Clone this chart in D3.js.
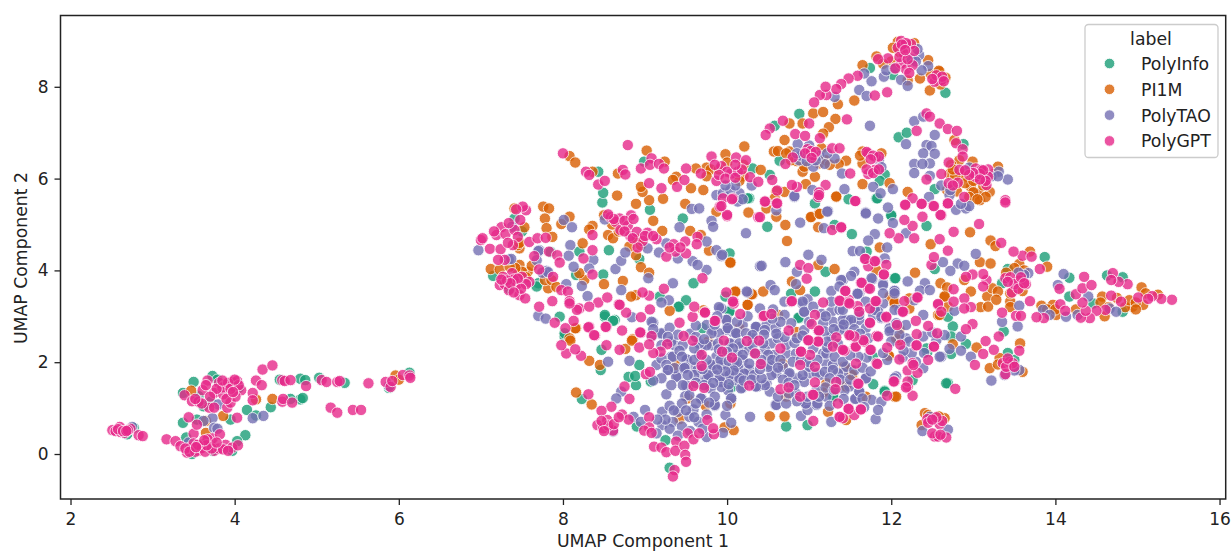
<!DOCTYPE html>
<html>
<head>
<meta charset="utf-8">
<script src="https://cdn.jsdelivr.net/npm/d3@7"></script>
<style>
html, body { margin: 0; padding: 0; background: #fff; }
svg { display: block; font-family: "DejaVu Sans", sans-serif; }
</style>
</head>
<body>
<svg id="chart"></svg>
<script>
// values, [UMAP 1, UMAP 2]
var labels = ["PolyInfo", "PI1M", "PolyTAO", "PolyGPT"];
var colors = ["#1b9e77", "#d95f02", "#7570b3", "#e7298a"];
var xTicks = [2, 4, 6, 8, 10, 12, 14, 16];
var yTicks = [0, 2, 4, 6, 8];

var polyInfo = [
[3.5,1.57],[3.73,1.7],[3.79,1.62],[3.37,1.33],[3.56,1.26],[3.71,1.14],[3.62,1.04],[3.37,.68],[3.54,.75],[3.95,.75],[4.15,.96],[4.26,.84],[4.44,1.02],[4.13,.41],[4.03,.28],[3.97,.07],[3.41,.36],[4.55,1.62],[4.8,1.64],[4.86,1.61],[5.03,1.66],[5.34,1.55],[4.8,1.19],[4.83,1.22],[4.68,1.2],[2.77,.57],[2.69,.43],[5.88,1.44],[6.13,1.77],[4.05,1.44],[3.48,0],[3.73,.07],
[8.48,5.48],[8.49,5.69],[8.43,6.15],[9.06,5.32],[8.56,4.44],[8.49,3.91],[7.7,3.72],[7.15,3.88],[8.2,4.41],[8.16,3.9],[9.59,3.72],[9.42,3.21],[9.5,3.35],[8.93,4.25],[8.51,2.99],[8.63,2.92],[10.03,3.12],[8.99,6.37],[10.27,5.57],[7.41,5.13],[9.18,3.43],[8.02,2.56],[9.46,5.13],[7.96,2.99],[9.7,2.74],[10.31,6.22],
[10.88,7.41],[11.74,8.41],[12.66,7.87],[12.09,6.9],[12.19,7],[11.92,6.09],[11.86,5.95],[11.82,5.57],[11.48,5.55],[12.53,5.77],[10.58,7.15],[12,5.19],[12.88,6.75],[12.02,8.26],[10.64,6.39],[10.52,6.08],[11.07,5.46],
[10.72,.6],[8.23,1.2],[8.89,1.5],[8.8,1.68],[8.88,1.7],[9.07,1.58],[8.46,1.83],[8.9,.6],[9.41,3.21],[10.03,3.1],[8.51,3.03],[8.61,2.9],[10.98,.63],[11.3,1.25],[11.51,1.83],[8.47,2.27],[8.02,2.63],[9.25,.3],[9.3,-.3],[8.93,1.94],[10.05,1.45],[10.88,2.96],
[11.52,4.79],[12.43,4.97],[13.87,4.29],[14.17,3.84],[14.63,3.89],[14.82,3.85],[12.75,2.78],[12.73,2.56],[12.91,2.4],[13.37,2.67],[13.42,2.2],[12.69,1.54],[11.92,1.38],[11.78,1.52],[12.69,2.99],[12.53,4.03],[12.04,3.83],[13.35,3.72],[13.42,4.03],[12.73,2.18],[12.44,2.22],[14.17,3.43],[14.46,3.28],[14.82,3.1],[11.78,2.12],[11.7,4.41],[12.26,1.61],
[10.49,4.95],[10.25,5.57],[11.83,5.57],[12,5.2],[11.31,4.99],[10.03,4.37],[11.07,3.54],[11.2,3.97],[12.05,3.83],[10.78,3.49],[9.98,3.43],[10.87,2.97],
[11.51,1.83],[11.92,1.36],[12.67,1.54],[12.43,2.3],[11.29,1.25],[7.35,3.6],[7.68,3.65],[7.85,4.4],[7.5,4.85],[13.5,2.05]
];

var pi1m = [
[3.47,1.38],[3.86,.83],[3.65,.46],[4.46,1.2],[4.26,1.19],[5.96,1.71],[6,1.62],[3.65,.72],
[8.08,6.49],[8.15,6.35],[9.02,6.61],[10.21,6.7],[9.98,6.53],[8.66,5.63],[8.89,5.45],[9.05,5.53],[9.22,5.56],[9.49,5.45],[10.26,5.26],[7.76,5.39],[7.83,5.35],[7.78,5.13],[7.8,4.92],[7.87,4.73],[8.08,5.17],[7.98,5.01],[8.24,4.59],[8.36,4.97],[8.32,4.89],[8.55,4.77],[8.61,4.7],[9.1,5.08],[9.21,4.86],[8.95,4.07],[9.05,3.95],[8.5,3.7],[8.73,3.77],[10.04,4.17],[9.78,4.43],[9.55,4.86],[9.68,4.77],[7.12,4.03],[7.23,4.02],[7.47,4.48],[7.53,4.94],[7.41,5.35],[8.97,5.71],[8.95,5.82],[9.38,6.04],[9.34,5.97],[9.71,5.75],[9.75,6.24],[9.62,6.22],[9.56,5.79],[8.67,6.11],[8.36,6.15],[7.82,3.61],[7.78,3.79],[7.86,3.79],[7.57,3.97],[7.47,4.12],[7.92,3.64],[8.26,3.79],[8.2,3.94],[8.89,3.46],[8.83,3.43],[9.3,3.12],[8.16,2.74],[8.08,2.52],[8.85,2.5],[10.1,3.53],[10.25,3.25],[10.31,3.48],[9.87,5.28],[8.89,4.33],[8.81,4.52],[9.24,6.37],
[11.55,7.7],[12.47,7.92],[11.32,7.3],[11.35,7.62],[11.05,7.42],[11.17,7.45],[10.92,7.2],[11.24,7.12],[11.17,6.98],[10.76,7.2],[10.7,6.84],[10.57,6.59],[10.76,6.59],[11.15,6.66],[11.45,6.39],[11.36,6.32],[11.65,5.88],[11.33,5.6],[11.03,5.17],[11.12,5.24],[12.2,5.71],[11.98,5.9],[10.92,6.15],[11.07,6.04],[10.96,5.88],[10.7,5.71],[12.35,8.18],[12.2,8.14],[12.45,8.58],[11.82,8.66],[11.65,8.47],[12.08,8.98],[11.65,6.59],[11.65,6.33],[12.83,6.4],[12.93,6.04],[12.71,6.1],[13.06,5.68],[12.97,5.82],[13.08,5.53],[13.2,5.71],[13.3,6.26],[12.73,6.3],[12.99,6.37],[12.77,6.84],[12.1,8.76],[12.59,8.33],[10.41,6.19],[10.94,6.26],[11.12,6.33],
[8.16,1.34],[8.35,1.08],[8.32,2.03],[8.45,1.94],[8.09,2.47],[8.15,2.74],[8.76,2.29],[8.84,2.47],[10.25,3.25],[10.62,3.03],[9.37,1.94],[9.74,1.05],[9.42,.76],[10.04,1.1],[10.08,.52],[9.97,.58],[10.52,.82],[10.7,.82],[10.68,1.97],[11.17,1.32],[11.53,1.72],[11.45,1.5],[10.72,1.25],[9.77,2.45],[10.15,2.74],[10.84,2.66],[9.52,1.21],[11.45,.74],[11.23,.92],[11.43,1.9],[11.21,1.54],[9.71,3.13],
[12.48,4.57],[12.96,4.83],[13.21,4.65],[13.27,4.53],[13.08,4.18],[13.21,4.15],[13.69,4.41],[13.9,4.08],[12.29,3.95],[11.86,4.5],[12.6,3.72],[12.65,3.44],[12.68,3.63],[12.69,3.21],[12.57,3.03],[12.22,3.17],[12.04,3.32],[11.98,3.43],[13.09,3.2],[13.17,3.43],[13.18,3.21],[13.23,3.61],[13.3,3.54],[13.28,3.36],[12.97,3.54],[12.89,3.79],[13.45,3.32],[13.45,3.2],[13.56,4.14],[13.57,2.41],[13.04,2.32],[13.2,1.87],[13.32,2.09],[13.6,1.79],[12.75,2.39],[11.97,2.14],[12.04,1.25],[11.69,1.25],[11.52,1.74],[13.83,3.23],[13.97,3.25],[14.01,3.03],[14.57,3.43],[15.05,3.63],[14.94,3.21],[15.07,3.25],[15.25,3.47],[12.41,.89],[12.65,.78],[12.37,.63],[12.1,2.48],
[10.71,4.99],[10.73,4.64],[11.02,5.16],[11.13,5.23],[11.11,4.94],[11.33,5.61],[10.04,4.17],[11.31,4.03],[10.79,3.76],[10.89,3.57],[10.44,3.54],[10.1,3.54],[10.3,3.48],[10.6,5.17],[10.48,5.35],[10.6,5.72],[10.58,5.57],[11.11,4.12],[11.82,4],[12.04,3.28],[12.22,3.39],
[11.52,1.72],[11.17,1.34],[11.97,2.14],[12.04,3.3],[12.1,2.72],[12.59,3.03],[12.65,3.43],[11.43,1.9],[12.06,1.25],[11.45,1.47],[12.06,2.52],
[7.45,4.55],[7.47,4.6],[7.5,3.97],[7.42,4.05],[7.35,4.08],[7.55,3.85],[7.62,4.1],
[12.02,8.85],[12.28,8.95],[12,8.55],[11.9,8.5],[12.48,8.28],[12.58,8.35],[12.66,8.2],[12.6,8.05],[12.45,.85],[12.58,.82],
[12.85,6.1],[12.9,5.9],[13,5.95],[13.12,5.85],[13,5.7],[13.15,5.6],[12.95,5.6],[13.25,6.1],[13.05,5.55],[12.78,6.05],[12.68,5.75],[12.8,5.72],[12.75,6.2],
[10.85,6.38],[10.78,6.4],[11.2,6.4],[11.25,6.3],[10.62,6.6],[10.72,6.55],[11.62,6.5],[11.88,6.55],
[8.68,4.85],[8.9,4.68],[8.6,5],[8.5,5.2],[8.95,4.55],[9.8,6.2],[9.9,6.2],[10,6.35],[10.2,6.05],[9.75,6.05],[10.2,6.3],[10.15,5.95],
[13.5,4.05],[13.4,3.95],[13.62,4],[13.45,3.5],[13.6,3.55],[13.3,1.95],
[14.55,3.3],[14.65,3.2],[14.85,3.2],[14.9,3.35],[14.98,3.3],[14.98,3.15],[14.6,3],[14.75,3.4],[15.1,3.5],[14.25,3.15],[13.9,3.15],[14,3.15]
];

var polyTao = [
[3.8,1.08],[3.73,.78],[3.62,.72],[3.75,.57],[3.79,.55],[4.22,.78],[4.35,.83],[3.44,.25],[5.88,1.48],[2.75,.59],
[8.01,5.1],[8.11,4.94],[8.09,4.55],[8.07,4.32],[8.13,4.08],[8.37,4.23],[8.32,4.04],[8.23,3.66],[8.3,3.44],[8.64,4.03],[8.71,4.21],[8.76,4.39],[8.71,3.57],[9.04,3.83],[9.34,3.72],[9.57,5.34],[9.66,5.35],[9.81,5.08],[9.83,4.95],[9.42,4.94],[10.23,4.81],[10.4,4.09],[9.03,4.48],[9.17,4.39],[9.26,4.59],[9.4,4.26],[9.58,4.2],[9.75,4.01],[9.64,4.12],[9.75,4.63],[9.87,4.44],[9.93,4.31],[10.15,5.68],[9.87,5.64],[9.95,5.68],[10.04,5.75],[10.13,5.5],[10.19,5.55],[7.34,4.24],[7.71,4.44],[7.8,3.99],[6.97,4.44],[7.7,3.01],[7.79,2.95],[9.29,3.35],[9.2,3.3],[9.1,2.86],[9.2,2.61],[9.08,2.56],[8.84,2.98],[8.51,5.11],[8.04,3.7],[10.25,3.52],[9.91,3.17],[9.83,2.7],[9.99,2.92],[10.07,2.66],[10.19,2.81],[10.35,2.74],[9.75,2.81],[9.99,2.7],
[11.74,7.15],[12.34,8.69],[12.32,8.82],[12.45,8.45],[12.37,8.36],[11.91,8.22],[11.94,8.36],[11.76,8.12],[11.61,7.93],[11.7,7.8],[11.31,7.78],[12.12,8.15],[12.2,8.02],[12.04,8.4],[11.67,8.29],[12.28,7.25],[12.39,7.35],[12.53,6.95],[12.18,6.75],[12.43,6.73],[12.49,6.71],[12.39,6.55],[12.53,6.54],[12.47,6.33],[12.28,6.32],[12.38,6.32],[12.28,6.12],[12.47,6.06],[12.61,5.85],[13.42,5.98],[13.31,6.15],[12.95,6.24],[11.43,5.77],[11.4,6.11],[11.78,5.82],[12.02,5.77],[11.87,5.68],[10.82,5.6],[11.04,5.75],[11.23,5.29],[11.69,5.26],[11.96,5.37],[12.46,5.6],[12.71,5.64],[12.79,5.32],[12.91,5.35],[10.86,6.75],[10.88,6.4],[11.05,6.26],[11.19,6.32],[11.31,6.44],[10.6,5.31],[11.84,5.13],
[9.26,1.3],[10.28,.81],[10.59,1.07],[10.9,.83],[8.55,2.01],[8.81,2.03],[9.27,1.83],[9.14,1.94],[9.08,2.88],[9.2,2.63],[9.32,2.12],[9.5,2.05],[9.47,1.9],[9.58,1.9],[9.4,1.7],[9.7,1.65],[9.85,1.72],[9.94,1.59],[10.03,1.72],[9.52,1.45],[9.69,1.21],[9.49,1.26],[10.05,1.21],[10.19,1.45],[10.36,1.49],[10.48,1.54],[10.52,1.36],[10.6,1.76],[10.75,1.74],[10.86,1.65],[10.96,1.1],[10.98,.96],[11.09,1.07],[11.21,1.25],[11.49,1.47],[11.57,1.21],[11.27,.7],[9,.96],[9.21,.92],[9.4,.92],[9.59,.97],[9.85,1.05],[9.98,.85],[10.05,.68],[9.95,.46],[9.75,.86],[9.54,.81],[9.34,.7],[9.21,.63],[8.86,.81],[8.95,.7],[8.71,1.36],[8.65,1.21],[8.61,.49],[9.14,.45],[9.75,.37],
[11.69,5.24],[12.02,5.03],[11.8,4.79],[11.72,4.65],[11.95,4.5],[12.18,4.81],[11.53,4.42],[11.62,4.42],[13.03,4.36],[12.63,4.18],[12.81,4.15],[12.89,4.1],[12.72,3.99],[12.2,3.76],[12.41,3.72],[12.04,3.56],[12.35,3.56],[12.47,3.57],[11.9,3.72],[11.55,3.97],[11.77,3.81],[12.77,3.12],[13.35,2.88],[13.54,2.78],[12.85,2.56],[12.85,2.25],[12.97,2.12],[12.71,2.29],[12.61,2.12],[13.22,1.6],[14.1,3.92],[14.03,3.68],[13.85,3.14],[14.13,2.99],[13.93,3.03],[14.27,3.03],[14.4,3.43],[14.66,3.17],[14.74,3.1],[13.56,3.23],[13.67,3.94],[12.38,.5],[12.69,.53],[12.47,.81],[11.81,.76],[11.76,1.18],[11.88,1.14],[11.56,1.2],[11.61,1.36],[11.69,1.64],[12.06,1.69],[12.14,2.11],[12.39,1.87],[12,2.7],[11.88,2.96],[12.18,2.52],[12.1,3.14],[12.39,3.03],[11.41,3.79],[11.61,3.49],[11.82,3.21],[11.9,3.28],[11.78,3.03],[11.45,2.92],[11.53,2.88],[11.61,2.92],[11.69,2.74],[11.98,2.74],[11.41,2.77],[11.41,1.76],[13.56,1.83],
[10.89,5.04],[10.82,5.62],[11.22,5.28],[11.18,4.92],[10.42,4.1],[10.71,4.18],[10.99,4.34],[11.15,4.23],[10.85,3.97],[10.84,3.7],[10.53,3.68],[10.58,3.57],[10.24,3.54],[9.94,4.34],[11.27,3.55],[11.51,3.88],[11.39,3.79],[11.37,3.65],[11.59,3.5],[11.76,3.83],[11.9,3.68],[12.04,3.55],[11.92,4.26],[10.4,3.17],[10.56,3.15],[10.7,3.32],[10.92,3.28],[10.98,3.37],[10.94,3.09],[11.15,3.05],[11.27,3.1],[11.37,3.14],[11.61,3.03],[10.7,3.03],[11.69,3.32],[9.93,3.17],[11.84,3.1],[12.04,3.14],
[9.36,2.37],[9.34,2.12],[9.51,2.06],[9.49,1.89],[9.38,1.68],[10,2.93],[10,2.74],[10.12,2.63],[9.9,2.63],[9.81,2.37],[9.68,2.34],[10.05,2.41],[10.17,2.34],[10.12,2.16],[9.87,2.12],[9.83,1.94],[9.95,1.94],[10.05,1.89],[10.19,2.05],[10.27,2.27],[10.23,1.86],[10.15,1.76],[9.75,1.72],[9.64,1.83],[9.93,1.57],[10.11,1.61],[10.27,1.83],[10.36,2.77],[10.48,2.81],[10.59,2.74],[10.31,2.52],[10.54,2.41],[10.46,2.27],[10.58,2.16],[10.52,1.94],[10.72,2.19],[10.84,2.19],[10.8,2.01],[10.68,1.9],[10.76,1.76],[11,1.76],[11.21,1.97],[11.29,1.94],[11.17,2.19],[11.13,2.7],[11.29,2.88],[11.41,2.92],[11.47,2.66],[11.27,2.56],[11.45,1.9],[11.35,1.76],[11.13,1.72],[10.94,1.57],[11.09,1.39],[10.84,1.32],[10.6,1.07],[10.37,1.47],[10.01,1.39],[9.85,1.07],[9.5,1.5],[9.2,2.08],[9.26,1.94],[9.36,1.87],
[10.92,3.32],[10.94,3.1],[11.05,3.21],[11.27,3.32],[11.41,3.14],[11.51,2.92],[11.59,3.49],[11.17,2.85],[11.19,2.67],[10.94,2.7],[11.21,2.19],[11.31,2.12],[11,1.9],[10.92,1.72],[11.09,1.76],[11.19,1.79],[11.29,1.83],[11.41,2.01],[11.43,1.39],[11.61,1.36],[11.69,1.65],[11.65,1.21],[11.84,.96],[11.67,1.02],[10.96,1.1],[11.1,1.1],[11.37,2.7],[11.98,2.67],[12.04,3.5],[12.06,2.85],[12.18,2.81],[11.9,3.5],[11.8,3.14],[11.88,2.99],[12.28,3.35],[12.59,2.12],[12.22,2.45],[12.39,2.56],[12.3,2.01],[12.04,1.65],[12.55,2.48],[12.65,2.59],
[9.32,2.45],[9.48,1.87],[9.28,1.83],[9.81,2.63],[9.99,2.92],[10.01,2.74],[10.11,2.63],[9.89,2.41],[9.75,2.37],[9.66,2.41],[10.03,2.41],[10.15,2.41],[10.23,2.63],[10.35,2.77],[10.46,2.7],[10.31,2.59],[10.07,2.3],[10.19,2.16],[10.27,1.97],[10.31,2.37],[10.44,2.41],[9.81,1.94],[9.93,1.94],[10.03,1.72],[9.91,1.65],[9.75,1.65],[9.6,1.72],[10.13,1.9],[10.21,1.75],[10.33,1.72],[10.46,1.5],[10.35,1.47],[10.17,1.43],[9.93,1.46],[9.8,1.43],[9.68,1.21],[9.54,1.28],[9.46,1.5],[9.85,1.25],[10.05,1.21],[9.2,2.37],[9.46,2.37],[9.66,2.16],[9.77,1.72],[10.09,2.01],[10.15,1.65],[9.9,3.2],[10.35,2.19],[10.5,2.16],[10.54,1.72],[10.5,1.9],
[9.55,2.62],[9.62,2.55],[9.72,2.5],[9.6,2.3],[9.42,2.25],[9.45,2.12],[9.6,2.05],[9.75,2.05],[9.9,2.28],[10,2.22],[9.92,2.05],[10.02,2.02],[10.12,2],[10.08,1.82],[9.98,1.8],[9.88,1.84],[9.7,1.85],[9.52,1.72],[9.62,1.55],[9.72,1.5],[9.83,1.55],[10.02,1.52],[10.2,1.6],[10.3,1.62],[10.42,1.65],[10.4,1.85],[10.42,2.05],[10.55,2.05],[10.65,2.05],[10.62,1.88],[10.68,1.62],[10.75,1.55],[10.82,1.5],[10.72,2.38],[10.82,2.42],[10.62,2.52],[10.7,2.55],[10.85,2.52],[10.92,2.58],[10.78,2.85],[10.65,2.88],[10.55,2.95],[10.9,2.05],[11,2],[11.1,2.05],[11.22,2.32],[11.35,2.4],[11.22,2.45],[11.05,2.3],[11.3,2.72],[11.42,2.82],[11.2,3],[11.55,2.72],[11.62,2.62],[11.72,2.52],[11.7,2.1],[11.6,2.12],[11.5,2.15],[11.55,1.82],[11.65,1.88],[11.75,1.8],[11.38,1.62],[11.5,1.62],[11.25,1.65],[11.2,1.45],[11.3,1.4],[11.42,1.2],[11.25,1.05],[11.12,1.25],[10.98,1.25],[10.85,1.15],[10.72,1.1],[10.75,1.32],[10.62,1.25],[9.1,2.72],[9.3,2.75],[9.4,2.6],[9.28,2.55],[9.62,2.8],[9.85,2.82],[9.88,3],[10.25,3],[10.12,2.88],[10.45,2.6],[10.6,2.62],[11,2.88],[9.2,1.65],[9.1,1.6],[9.32,1.5],[9.3,1.05],[9.45,1.1],[9.62,1.1],[9.78,1.12],[10,1.05],[12.25,2.2],[12.4,2.2],[12.15,2.25],[11.95,2.05],[11.9,2.2],[12.5,2.65],[12.1,2.6],[12,2.45],
[7.37,4.25],[7.38,4.95],[7.7,4.42],[7.75,3.95],[7.82,3.96],[7.68,4.22],
[12.25,8.6],[12.3,8.55],[13.22,6.05],[13.3,6.05],[12.95,5.4],[12.85,5.45],[12.72,5.75],
[10.9,6.5],[11.12,6.5],[10.97,6.38],[11.08,6.4],[10.85,6.55],[11,6.72],[11.22,6.55],[11.85,6.4],[11.88,6.25],[10.3,5.85],[10.1,5.85],[9.98,5.85],
[13.62,3.9],[13.55,3.95],[13.5,1.82],[13.38,1.72],
[9.3,.55],[9.45,.6],[9.55,.5],[9.4,.4],[9.65,.7],[9.7,.55],[9.25,.75],[9.15,.75],[9.5,.95],[9.35,.95],[9.6,.8]
];

var polyGpt = [
[2.51,.52],[2.6,.59],[2.55,.5],[2.61,.48],[2.66,.46],[2.73,.55],[2.83,.41],[2.88,.39],[3.17,.32],[3.28,.28],[3.34,.17],[3.42,.03],[3.46,.14],[3.5,.44],[3.5,.23],[3.56,.07],[3.61,.21],[3.71,.19],[3.73,.34],[3.75,.07],[3.82,.43],[3.81,.12],[3.89,.2],[3.97,.14],[4.04,.19],[3.67,.32],[3.54,.64],[3.44,.8],[4.03,.79],[3.67,1.6],[3.81,1.55],[3.97,1.57],[4.03,1.59],[4,1.46],[4.08,1.39],[3.61,1.39],[3.75,1.33],[3.86,1.3],[3.39,1.28],[3.48,1.15],[3.56,1.14],[3.69,1.01],[3.75,1.01],[3.91,1.01],[3.95,1.12],[4.01,1.25],[3.89,1.51],[4.26,1.6],[4.33,1.5],[4.34,1.84],[4.46,1.93],[4.22,1.33],[4.22,1.17],[4.58,1.14],[4.59,1.2],[4.7,1.12],[4.58,1.61],[4.61,1.59],[4.68,1.61],[4.87,1.48],[5.06,1.61],[5.12,1.57],[5.25,1.57],[5.28,1.59],[5.17,1.01],[5.25,.9],[5.44,.96],[5.54,.96],[5.63,1.54],[5.84,1.57],[5.9,1.46],[6.05,1.72],[6.13,1.71],[6.14,1.66],[5.92,1.59],
[3.85,1.45],[3.92,1.55],[3.95,1.42],[4.05,1.5],[3.78,1.42],[3.7,1.25],[3.9,1.2],[3.65,1.5],[3.85,1.6],[4,1.62],[3.98,1.35],[3.6,1.1],[3.52,1.2],[3.4,.12],[3.52,.05],[3.6,.13],[3.64,.05],[3.72,.12],[3.86,.1],[3.92,.07],[3.66,.19],[3.55,.2],[3.78,.25],[3.45,.05],[3.63,.3],[3.53,.15],[2.58,.54],[2.64,.5],[2.7,.52],[2.68,.5],
[8,6.55],[8.79,6.73],[8.28,6.15],[8.32,6.08],[8.43,5.87],[8.51,5.95],[8.73,6.19],[8.76,6.09],[8.95,6.22],[9.08,6.44],[9.06,6.3],[9.17,6.32],[9.23,6.22],[9.05,5.9],[9.2,5.79],[9.39,5.82],[9.5,6.22],[9.48,5.97],[9.68,6.11],[9.81,6.48],[9.93,6.27],[9.87,5.95],[10.05,6.11],[10.11,6.46],[10.23,6.4],[10.13,6.15],[10.28,6.03],[10.38,5.93],[10.07,5.57],[9.95,5.57],[9.91,5.39],[10,5.18],[10.38,5.16],
[7.55,5.31],[7.51,5.39],[7.43,5.33],[7.48,5.1],[7.25,4.94],[7.19,4.77],[7.3,4.79],[7.41,4.88],[7.45,4.73],[7.39,4.55],[7,4.66],[7.11,4.47],[7.24,4.46],[7.59,4.62],[7.69,4.7],[7.79,4.71],[7.65,4.31],[7.83,4.41],[7.93,4.33],[7.96,4.17],[8.25,4.26],[8.36,4.44],[8.36,4.77],[7.29,4.23],[7.21,4.23],[7.38,3.94],[7.27,3.86],[7.23,3.68],[7.29,3.7],[7.5,3.86],[7.59,3.75],[7.44,3.7],[7.71,4.02],[7.88,3.86],[7.34,3.57],[7.47,3.46],[7.54,3.39],[8.36,3.91],
[7.34,5.03],[7.02,4.7],[7.16,4.85],[7.33,4.6],[7.4,3.8],[7.32,3.78],[7.55,3.7],[7.45,3.82],[7.36,3.72],[7.25,3.8],[7.49,3.6],[7.4,3.52],
[8.58,5.16],[8.69,5.13],[8.83,5.2],[8.64,5.06],[8.7,4.88],[8.79,4.97],[8.82,4.75],[8.9,4.84],[9.03,4.82],[9.14,4.68],[8.97,4.64],[8.91,4.5],[9.35,4.57],[9.37,4.41],[9.26,4.3],[9.5,4.37],[9.49,4.63],[9.64,4.73],[9.63,4.57],[9.7,3.83],[9.23,3.6],
[8.62,5.12],[8.75,5.08],[8.55,5.22],[8.86,5.12],[8.75,4.85],[8.85,4.7],[9,4.75],[9.1,4.75],[9.3,4.5],[9.43,4.5],
[10,6.15],[9.9,6.08],[9.98,6],[10.1,6.02],[10.18,6.2],[10.1,6.3],[9.85,6.3],
[7.98,3.57],[8.06,3.54],[7.87,3.33],[8.08,3.33],[7.71,3.21],[7.9,2.86],[8.13,2.9],[8.2,3.17],[8.17,3.14],[8.43,3.3],[8.32,3.21],[8.54,3.41],[8.68,3.26],[8.77,3.08],[8.95,2.98],[9.06,3.15],[9.05,3.45],[8.97,3.52],[8.32,2.77],[8.39,2.58],[8.53,2.77],[8.72,2.69],[8.03,2.74],[8.95,2.64],[9.58,2.99],[9.6,3.21],[9.73,3.09],[9.86,2.9],[10.08,3.32],[9.99,3.52],[10.16,3.05],
[12.12,9],[12.24,8.93],[12.15,8.73],[12.12,8.51],[12.18,8.38],[12.26,8.47],[11.96,8.62],[11.84,8.6],[11.59,8.24],[11.48,8.18],[11.39,8.06],[11.33,7.95],[11.21,7.82],[11.13,7.82],[11.06,7.66],[11.2,8],[11.95,7.88],[11.8,7.81],[11.46,7.29],[10.68,7.26],[10.52,7.09],[10.47,6.95],[10.83,6.97],[10.95,6.93],[11,7.2],[11.13,6.88],[10.98,6.64],[11.05,6.51],[11.28,6.66],[11.37,6.66],[10.8,6.46],[10.71,6.32],[11.72,6.55],[11.81,6.46],[11.8,6.19],[11.72,6.1],[11.5,6.11],[10.55,5.97],[11.2,5.86],[11.12,5.7],[11.11,5.6],[10.85,5.82],[10.79,5.86],[10.61,5.74],[10.47,5.5],[10.6,5.46],[11.57,5.51],[12.43,7.42],[12.47,7.35],[12.59,7.2],[12.69,7.08],[12.8,7.04],[12.31,7.04],[12.79,6.77],[12.87,6.64],[12.87,6.48],[12.7,6.35],[12.83,6.19],[12.61,6.1],[13.03,6.22],[13.18,6.2],[13.1,6.19],[13.03,6.04],[13.18,6.04],[13.16,5.86],[12.7,5.9],[12.81,5.91],[12.43,5.98],[12.89,5.6],[13.39,5.53],[12.69,5.46],[12.51,5.41],[12.37,5.45],[12.26,5.57],[12.17,5.42],[12.61,5.2],[12.57,8.18],[12.61,8.15],[12.53,8.11],
[12.08,8.85],[12.18,8.95],[12.1,8.65],[12.2,8.6],[12.28,8.78],[12.05,8.4],[12.22,8.3],[12.13,8.92],[12.17,8.8],[12.55,8.25],[12.62,8.22],[12.5,8.17],[12.64,8.12],
[13.08,6.1],[13.12,6.18],[13,6.12],[12.95,6.08],[13.15,5.95],[13.08,5.98],[12.75,5.85],[12.9,6.18],
[11.02,6.6],[11.08,6.58],[10.95,6.55],[11.03,6.45],[11.7,6.58],[11.78,6.5],[11.85,6.48],[11.75,6.42],[11.7,6.2],[11.78,6.12],[11.85,6.2],
[9.42,2.86],[9.58,2.47],[9.47,2.57],[9.73,3.08],[9.85,2.9],[9.96,2.47],[9.94,2.23],[10.06,2.1],[9.69,2.16],[9.69,1.92],[10.24,2.46],[10.39,2.47],[10.34,2.19],[10.41,1.96],[10.44,3],[10.75,2.69],[10.65,2.3],[10.9,2.23],[11.01,2.16],[10.99,2.47],[11.11,2.46],[11.11,2.69],[11.33,2.54],[11.5,2.57],[11.42,2.25],[11.29,2.34],[11.56,2.34],[11.07,1.9],[10.89,1.94],[11.07,1.56],[11.33,1.57],[11.32,1.41],[11.04,1.29],[11.35,1.1],[11.48,.99],[11.38,.8],[11.55,.85],[11.05,.72],[10.89,1.25],[10.65,1.41],[10.75,1.45],[10.27,1.49],[9.72,1.44],[9.59,1.48],[9.27,2.39],[9.19,2.23],[9.1,2.2],[8.93,2.32],[8.94,2.65],[9.08,2.57],[9.05,2.39],[9.01,1.74],[9.06,1.79],[8.69,2.27],[8.22,2.14],[8.04,2.19],[7.98,2.37],[8.53,2.37],[8.15,2.28],[8.31,2.76],[8.38,2.59],[8.52,2.77],[8.08,3.28],[8.69,3.25],[10.08,3.28],[10.78,3.32],[11.17,3.3],
[8.31,1.3],[8.59,1.03],[8.47,.94],[8.72,.86],[8.81,1.2],[8.75,1.47],[8.42,.63],[8.49,.56],[8.54,.74],[8.61,.51],[8.8,.75],[9.05,.8],[9.05,.58],[8.99,.51],[9.08,.46],[9.11,.16],[9.2,.14],[9.26,.04],[9.38,.27],[9.37,.07],[9.48,.18],[9.49,-.02],[9.5,-.17],[9.36,-.35],[9.34,-.49],[9.52,.45],[9.59,.32],[9.66,.45],[9.84,.43],[9.76,.74],[9.83,.56],
[8.55,.62],[8.47,.72],[8.62,.65],[8.5,.5],[8.68,.8],
[15.42,3.36],[15.29,3.38],[15.18,3.44],[15.01,3.41],[15.13,3.38],[14.88,3.7],[14.77,3.75],[14.7,3.94],[14.68,3.79],[14.8,3.32],[14.68,3.45],[14.61,3.14],[14.5,3.12],[14.42,2.96],[14.31,2.97],[14.37,3.12],[14.33,3.3],[14.25,3.48],[14.33,3.61],[14.44,3.68],[14.35,3.86],[14.05,3.6],[14.06,3.26],[14.12,3.12],[13.86,2.96],[13.77,2.98],[13.69,3.33],[13.81,4.03],[13.6,4.32],[13.71,4.3],[13.49,4.41],[13.34,4.6],[13.56,3.78],[13.39,3.83],[13.47,3.52],[13.64,3.7],[13.52,3.01],[13.58,3.01],[13.35,3.08],[12.97,3.2],[12.89,3.39],[12.89,3.17],[12.76,3.32],[12.57,3.25],[13.16,3.79],[13.12,3.92],[12.99,3.91],[12.91,3.86],[13.12,3.65],[12.76,3.59],[12.49,4.12],[12.52,4.29],[12.69,4.43],[12.59,4.68],[12.76,4.84],[13.07,5.01],[12.28,4.7],[12.09,4.7],[11.98,4.81],[12.26,4.97],[12.38,5.17],[12.6,5.21],[12.52,5.4],[12.16,5.1],[12.37,5.45],[12.17,5.43],[12.69,5.46],[13.39,5.48],[12.99,2.83],[12.91,2.72],[13.15,2.46],[13.25,2.27],[13.12,2.18],[13.56,2.25],[13.31,2.56],[13.02,1.94],[13.36,1.98],[13.44,2],[13.48,1.98],[13.39,1.74],[12.78,1.42],[12.26,1.27],[12.2,1.47],[12.04,1.58],[11.95,1.27],[11.63,.98],[11.48,.98],[11.41,.78],[11.59,1.54],[12.2,1.82],[12.32,1.77],[12.45,2.05],[12.26,1.98],[12.3,2.36],[12.52,2.34],[12.11,2.38],[12.1,2.06],[11.82,1.98],[11.74,2.27],[11.82,2.57],[11.57,2.34],[11.43,2.25],[11.51,2.58],[11.67,2.45],[11.95,2.32],[12.31,2.61],[12.45,2.79],[12.56,2.63],[12.3,2.9],[11.74,2.85],[11.94,2.97],[12.15,3.1],[12.16,3.33],[12.31,3.41],[11.59,3.22],[11.74,3.17],[11.48,3.36],[11.72,3.61],[11.63,3.73],[11.44,3.56],[11.91,3.92],[11.94,4.12],[11.81,4.2],[11.69,4.25],[11.72,4.09],[11.39,4.93],[12.44,.76],[12.59,.65],[12.53,.38],[12.57,.38],[12.67,.36],
[12.45,.68],[12.5,.45],[12.6,.42],[12.62,.72],[12.55,.8],[12.5,.75],
[13.45,3.85],[13.5,3.7],[13.58,3.85],[13.42,3.75],[13.55,3.6],[13.62,3.72],[13.4,1.9],[13.42,2.08],[13.5,1.9],
[10.46,5.5],[10.61,5.46],[10.4,5.16],[10,5.21],[10.06,5.55],[9.93,5.4],[11.12,5.64],[11.56,5.51],[11.28,4.88],[11.39,4.94],[10.89,4.12],[10.99,4.05],[10.97,3.82],[11.68,4.25],[11.8,4.2],[11.91,3.91],[11.64,3.73],[11.74,3.6],[11.44,3.55],[10.07,3.32],[10.79,3.33],[11.38,3.33],[11.48,3.3],[11.82,3.33],[11.07,3.03],[10.45,3.01],[10.54,3.05],[11.94,2.99],
[11.37,3.34],[11.49,3.28],[11.61,3.1],[11.81,3.33],[11.03,2.83],[11.12,2.69],[11.74,2.86],[12.07,2.81],[12.14,3.1],[12.32,3.41],[12.57,3.27],[12.61,3.1],[12.31,2.37],[12.27,1.94],[12.52,2.34],[12.03,1.58],[12.2,1.58],[12.18,1.45],[11.6,1.53],[11.66,2.48],[11.55,2.56],[11.49,2.59],[11.41,2.27],[11.11,2.45],[10.99,2.48],[10.9,2.23],[11.75,2.27],[11.84,2.56],[11.57,1.97],[11.83,1.96],[11.05,1.29],[11.63,.97],[11.37,.81]
];

var width = 1232;
var height = 551;
var margin = { top: 15.5, right: 6.3, bottom: 52, left: 60.5 };
var series = [polyInfo, pi1m, polyTao, polyGpt];

var xScale = d3.scaleLinear()
    .domain([1.878, 16.075])
    .range([margin.left, width - margin.right]);

var yScale = d3.scaleLinear()
    .domain([-0.98, 9.553])
    .range([height - margin.bottom, margin.top]);

var svg = d3.select("#chart")
    .attr("width", width)
    .attr("height", height);

series.forEach(function(points, i) {
    svg.append("g")
        .selectAll("circle")
        .data(points)
        .enter()
        .append("circle")
         .attr("cx", d => xScale(d[0]))
         .attr("cy", d => yScale(d[1]))
         .attr("r", 5.7)
         .attr("fill", colors[i])
         .attr("stroke", "#fff")
         .attr("stroke-width", 0.9)
         .attr("opacity", 0.8);
});

svg.append("rect")
    .attr("x", margin.left)
    .attr("y", margin.top)
    .attr("width", width - margin.left - margin.right)
    .attr("height", height - margin.top - margin.bottom)
    .attr("fill", "none")
    .attr("stroke", "#222")
    .attr("stroke-width", 1.5);

var xAxis = d3.axisBottom(xScale).tickValues(xTicks).tickSize(6).tickPadding(8);
var yAxis = d3.axisLeft(yScale).tickValues(yTicks).tickSize(6).tickPadding(6);

var xG = svg.append("g")
    .attr("transform", `translate(0, ${height - margin.bottom})`)
    .call(xAxis);
var yG = svg.append("g")
    .attr("transform", `translate(${margin.left}, 0)`)
    .call(yAxis);

[xG, yG].forEach(function(g) {
    g.select(".domain").remove();
    g.selectAll("line").attr("stroke", "#222").attr("stroke-width", 1.3);
    g.selectAll("text")
        .attr("fill", "#222")
        .style("font-size", "17px")
        .style("font-family", '"DejaVu Sans", sans-serif');
});

svg.append("text")
    .attr("x", 643)
    .attr("y", 547)
    .style("text-anchor", "middle")
    .style("font-size", "17.3px")
    .attr("fill", "#222")
    .text("UMAP Component 1");

svg.append("text")
    .attr("transform", "rotate(-90)")
    .attr("x", -258)
    .attr("y", 27)
    .style("text-anchor", "middle")
    .style("font-size", "17.3px")
    .attr("fill", "#222")
    .text("UMAP Component 2");

// legend
var legend = svg.append("g");
legend.append("rect")
    .attr("x", 1085)
    .attr("y", 24.5)
    .attr("width", 133)
    .attr("height", 133)
    .attr("rx", 3.5)
    .attr("fill", "#fff")
    .attr("fill-opacity", 0.8)
    .attr("stroke", "#ccc")
    .attr("stroke-width", 1.3);

legend.append("text")
    .attr("x", 1151)
    .attr("y", 45)
    .style("text-anchor", "middle")
    .style("font-size", "17.3px")
    .attr("fill", "#222")
    .text("label");

labels.forEach(function(name, i) {
    var rowY = 63.5 + i * 25.8;
    legend.append("circle")
        .attr("cx", 1109.5)
        .attr("cy", rowY)
        .attr("r", 5.3)
        .attr("fill", colors[i])
        .attr("stroke", "#fff")
        .attr("stroke-width", 0.9)
        .attr("opacity", 0.8);
    legend.append("text")
        .attr("x", 1141)
        .attr("y", rowY + 6.5)
        .style("font-size", "17.3px")
        .attr("fill", "#222")
        .text(name);
});
</script>
</body>
</html>
